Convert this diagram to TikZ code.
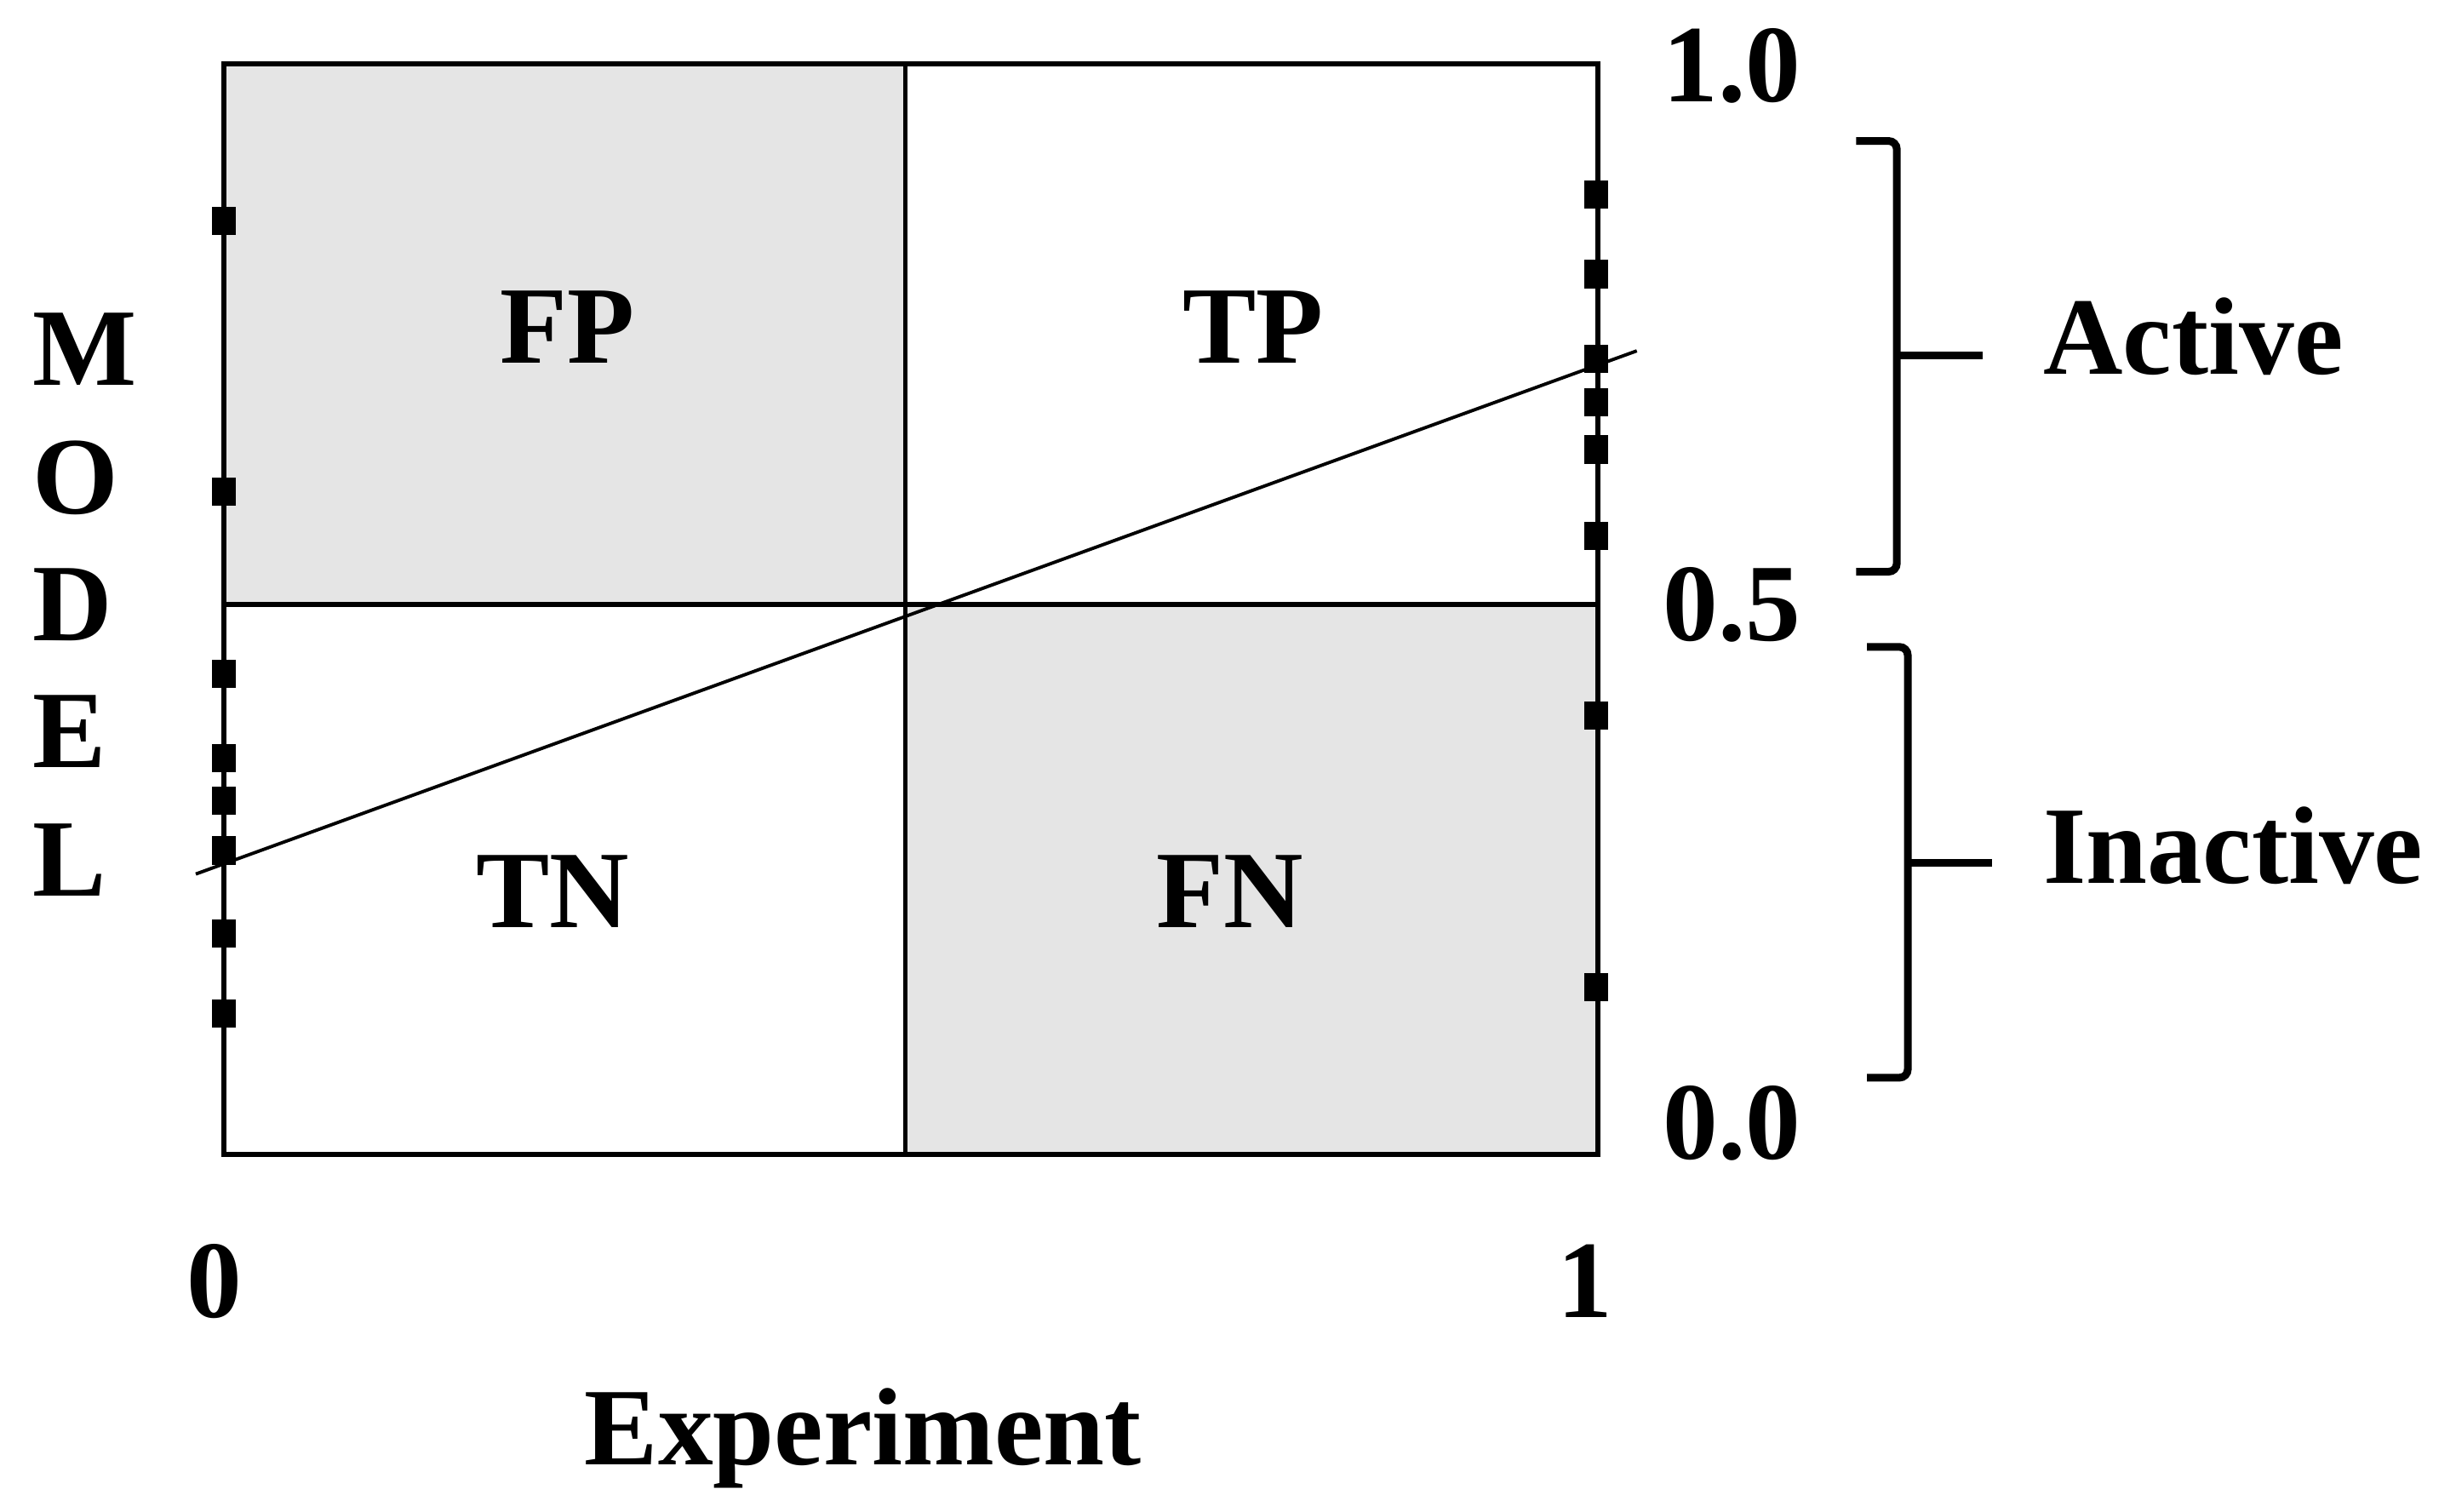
\documentclass[tikz,border=0pt]{standalone}
\usepackage{fontspec}
\setmainfont{Liberation Serif}
\tikzstyle{celltext}=[font=\fontsize{20}{24}\selectfont\bfseries,inner sep=0pt]
\tikzstyle{point}=[rectangle,fill=black,minimum width=0.15cm,minimum height=0.18cm,inner sep=0pt]
\tikzstyle{frame}=[draw,line width=0.9pt]
\tikzstyle{brace}=[draw,line width=1.4pt,rounded corners=1.5pt]

\begin{document}
\begin{tikzpicture}[x=0.01cm,y=-0.01cm]
	\useasboundingbox (0,0) rectangle (1568,965);
	% shaded cells
	\fill[black!10] (143,41) rectangle (578,386);
	\fill[black!10] (578,386) rectangle (1020,737);
	% the grid
	\draw[frame] (143,41) rectangle (1020,737);
	\draw[frame] (578,41) -- (578,737);
	\draw[frame] (143,386) -- (1020,386);
	\node[celltext,anchor=base] (fp) at (362,232) {FP};
	\node[celltext,anchor=base] (tp) at (800,232) {TP};
	\node[celltext,anchor=base] (tn) at (353,592) {TN};
	\node[celltext,anchor=base] (fn) at (785,592) {FN};
	% fitted line
	\coordinate (fitstart) at (125,558);
	\coordinate (fitend) at (1045,224);
	\draw[line width=0.6pt] (fitstart) -- (fitend);
	% model values of the compounds
	\foreach \y [count=\i] in {141,314,430,484,511,543,596,647}
		\node[point] (zero\i) at (143,\y) {};
	\foreach \y [count=\i] in {124,175,229,257,287,342,457,630}
		\node[point] (one\i) at (1019,\y) {};
	% axis labels
	\foreach \l/\y in {M/246,O/328,D/409,E/490,L/572}
		\node[celltext,anchor=base west] (model\l) at (20,\y) {\l};
	\node[celltext,anchor=base west] (top) at (1061,65) {1.0};
	\node[celltext,anchor=base west] (mid) at (1061,409) {0.5};
	\node[celltext,anchor=base west] (bot) at (1061,740) {0.0};
	\node[celltext,anchor=base] (xzero) at (137,841) {0};
	\node[celltext,anchor=base] (xone) at (1012,841) {1};
	\node[celltext,anchor=base] (xlabel) at (551,935) {Experiment};
	% brackets
	\node[celltext,anchor=base west] (active) at (1304,239) {Active};
	\node[celltext,anchor=base west] (inactive) at (1304,564) {Inactive};
	\draw[brace] (1185,90) -- (1211,90) -- (1211,365) -- (1185,365);
	\draw[brace] (1211,227) -- (1266,227);
	\draw[brace] (1192,413) -- (1218,413) -- (1218,688) -- (1192,688);
	\draw[brace] (1218,551) -- (1272,551);
\end{tikzpicture}
\end{document}
